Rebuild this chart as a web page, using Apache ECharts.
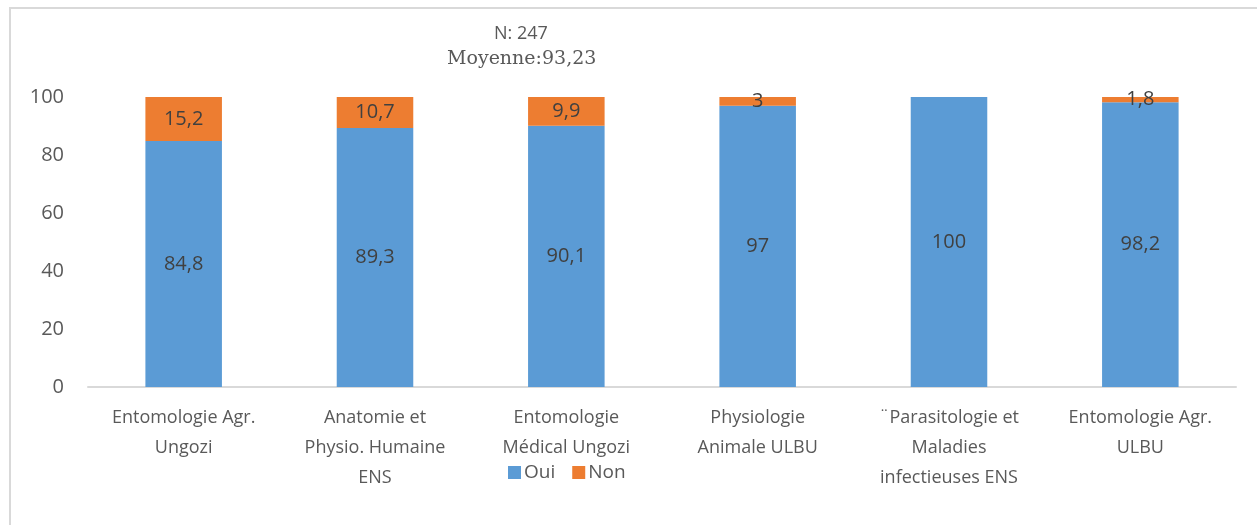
<!DOCTYPE html>
<html>
<head>
<meta charset="utf-8">
<script src="https://cdn.jsdelivr.net/npm/echarts@6/dist/echarts.min.js"></script>
<style>
  html, body { margin: 0; padding: 0; background: #fff; }
  #chart { width: 1257px; height: 525px; }
</style>
</head>
<body>
<div id="chart"></div>
<script>
  const categories = [
    'Entomologie Agr.\nUngozi',
    'Anatomie et\nPhysio. Humaine\nENS',
    'Entomologie\nMédical Ungozi',
    'Physiologie\nAnimale ULBU',
    '¨Parasitologie et\nMaladies\ninfectieuses ENS',
    'Entomologie Agr.\nULBU'
  ]
  const oui = [84.8, 89.3, 90.1, 97, 100, 98.2]
  const non = [15.2, 10.7, 9.9, 3, 0, 1.8]
  const yTicks = [0, 20, 40, 60, 80, 100]

  const chart = echarts.init(document.getElementById('chart'))

  const labelFmt = function (p) {
    return p.value > 0 ? String(p.value).replace('.', ',') : ''
  }

  chart.setOption({
    backgroundColor: '#fff',
    animation: false,
    graphic: [{
      type: 'rect',
      shape: { x: 10, y: 8, width: 1260, height: 530 },
      style: { fill: 'none', stroke: '#d9d9d9', lineWidth: 2 },
      silent: true
    }],
    title: [{
      text: 'N: 247',
      left: 489,
      top: 20,
      textStyle: { color: '#595959', fontSize: 18, fontWeight: 'normal', fontFamily: 'Open Sans' }
    }, {
      text: 'Moyenne:93,23',
      left: 442,
      top: 45,
      textStyle: { color: '#595959', fontSize: 19, fontWeight: 'normal', fontFamily: 'DejaVu Serif' }
    }],
    legend: {
      left: 503,
      top: 458,
      itemWidth: 13,
      itemHeight: 13,
      itemGap: 17,
      icon: 'rect',
      textStyle: { color: '#595959', fontSize: 19, fontFamily: 'Open Sans', padding: [0, 0, 0, -2] },
      data: ['Oui', 'Non']
    },
    grid: {
      left: 88,
      right: 21,
      top: 97,
      bottom: 138,
      containLabel: false
    },
    xAxis: {
      type: 'category',
      data: categories,
      axisLine: { lineStyle: { color: '#d9d9d9', width: 2 } },
      axisTick: { show: false },
      axisLabel: {
        interval: 0,
        color: '#595959',
        fontSize: 18,
        fontFamily: 'Open Sans',
        lineHeight: 30,
        margin: 16
      }
    },
    yAxis: {
      type: 'value',
      min: yTicks[0],
      max: yTicks[yTicks.length - 1],
      interval: 20,
      splitLine: { show: false },
      axisLine: { show: false },
      axisTick: { show: false },
      axisLabel: {
        color: '#595959',
        fontSize: 20,
        fontFamily: 'Open Sans',
        margin: 24
      }
    },
    series: [{
      name: 'Oui',
      type: 'bar',
      stack: 'total',
      barWidth: '40%',
      itemStyle: { color: '#5b9bd5' },
      label: {
        show: true,
        position: 'inside',
        color: '#404040',
        fontSize: 20,
        fontFamily: 'Open Sans',
        formatter: labelFmt
      },
      data: oui
    }, {
      name: 'Non',
      type: 'bar',
      stack: 'total',
      barWidth: '40%',
      itemStyle: { color: '#ed7d31' },
      label: {
        show: true,
        position: 'inside',
        color: '#404040',
        fontSize: 20,
        fontFamily: 'Open Sans',
        formatter: labelFmt
      },
      data: non
    }]
  })
</script>
</body>
</html>
